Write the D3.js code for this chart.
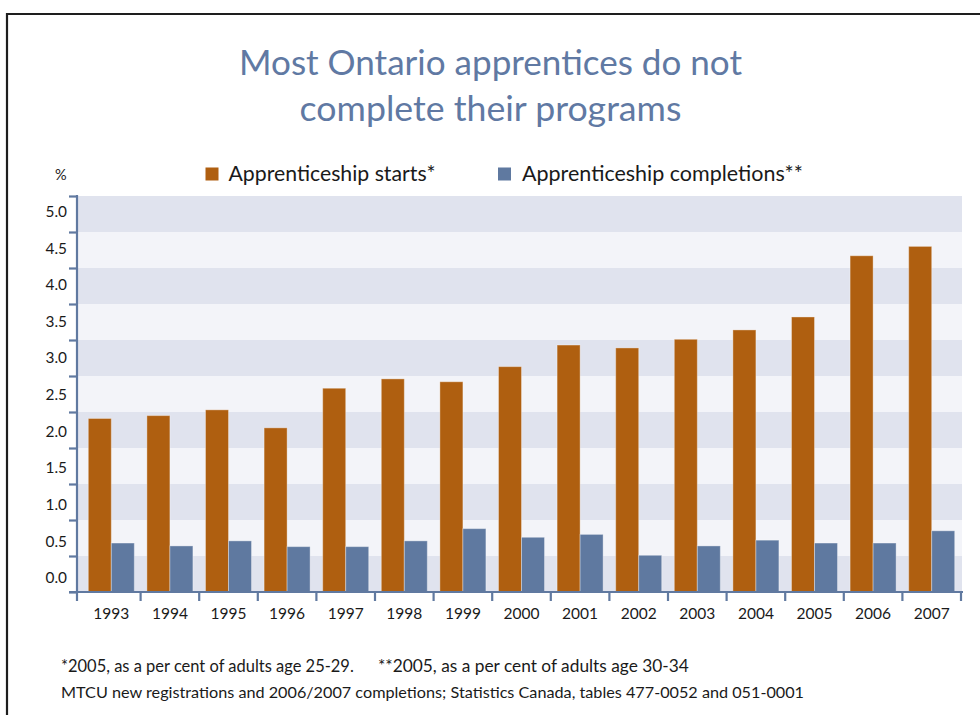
<!DOCTYPE html>
<html>
<head>
<meta charset="utf-8">
<script src="https://cdn.jsdelivr.net/npm/d3@7"></script>
<style>
  html, body { margin: 0; padding: 0; background: #ffffff; }
  svg { display: block; }
  text { font-family: Lato, "Open Sans", "DejaVu Sans", sans-serif; }
</style>
</head>
<body>
<svg id="chart" width="980" height="715"></svg>
<script>
// ---------------- data ----------------
const years = ["1993","1994","1995","1996","1997","1998","1999","2000","2001","2002","2003","2004","2005","2006","2007"];
const seriesNames = ["Apprenticeship starts*", "Apprenticeship completions**"];
const starts      = [2.41, 2.45, 2.53, 2.28, 2.83, 2.96, 2.92, 3.13, 3.43, 3.39, 3.51, 3.64, 3.82, 4.67, 4.80];
const completions = [0.68, 0.64, 0.71, 0.63, 0.63, 0.71, 0.88, 0.76, 0.80, 0.51, 0.64, 0.72, 0.68, 0.68, 0.85];
const yTickLabels = ["0.0","0.5","1.0","1.5","2.0","2.5","3.0","3.5","4.0","4.5","5.0"];
const titleLines = ["Most Ontario apprentices do not", "complete their programs"];
const footnotes = ["*2005, as a per cent of adults age 25-29.", "**2005, as a per cent of adults age 30-34",
                   "MTCU new registrations and 2006/2007 completions; Statistics Canada, tables 477-0052 and 051-0001"];

// ---------------- layout ----------------
const svg = d3.select("#chart");
const colors = { starts: "#AF5F10", completions: "#5F79A0" };
const axisColor = "#6079A0";
const titleColor = "#6079A3";
const textColor = "#1a1a1a";

const plot = { left: 77, right: 962, top: 196, bottom: 592 };

const y = d3.scaleLinear().domain([0, 5.5]).range([plot.bottom, plot.top]);
const yLab = d3.scaleLinear().domain([0, 5]).range([578, 211.5]);
const x = d3.scaleBand().domain(years).range([82, 961]).paddingInner(0).paddingOuter(0);
const groupW = 46;
const xs = d3.scaleBand().domain(["starts","completions"])
  .range([(x.bandwidth() - groupW) / 2, (x.bandwidth() + groupW) / 2]);

// fit text to a target width by adjusting font size
function fit(sel, width) {
  sel.each(function() {
    const len = this.getComputedTextLength();
    const fs = parseFloat(d3.select(this).attr("font-size"));
    d3.select(this).attr("font-size", (fs * width / len).toFixed(2));
  });
  return sel;
}

// frame
svg.append("path")
  .attr("d", "M7,720 L7,14 L990,14")
  .attr("fill", "none").attr("stroke", "#1e1e1e").attr("stroke-width", 2.2);

// title
svg.selectAll("text.title").data(titleLines).enter().append("text")
  .attr("class", "title")
  .attr("x", 490.5).attr("y", (d, i) => i === 0 ? 75 : 120.5)
  .attr("text-anchor", "middle").attr("fill", titleColor)
  .attr("font-size", 34).text(d => d)
  .each(function(d, i) { fit(d3.select(this), i === 0 ? 503 : 382); });

// legend
const legendItems = [
  { key: "starts", name: seriesNames[0], sx: 205.5, tx: 228.5, w: 207 },
  { key: "completions", name: seriesNames[1], sx: 498, tx: 522, w: 281 }
];
const lg = svg.append("g");
lg.selectAll("rect").data(legendItems).enter().append("rect")
  .attr("x", d => d.sx).attr("y", 167.5).attr("width", 13).attr("height", 13)
  .attr("fill", d => colors[d.key]);
lg.selectAll("text").data(legendItems).enter().append("text")
  .attr("x", d => d.tx).attr("y", 181).attr("fill", textColor)
  .attr("font-size", 20).text(d => d.name)
  .each(function(d) { fit(d3.select(this), d.w); });

// % unit label
svg.append("text").attr("x", 55).attr("y", 180).attr("font-size", 14.5)
  .attr("fill", textColor).text("%");

// background bands
const bandEdges = d3.range(0, 5.5, 0.5);
svg.append("g").selectAll("rect").data(bandEdges).enter().append("rect")
  .attr("x", plot.left).attr("width", plot.right - plot.left)
  .attr("y", d => y(d + 0.5)).attr("height", d => y(d) - y(d + 0.5))
  .attr("fill", (d, i) => i % 2 === 0 ? "#E0E3EE" : "#F3F4F9");

// bars
const rows = years.map((yr, i) => ({ year: yr, starts: starts[i], completions: completions[i] }));
const groups = svg.append("g").selectAll("g").data(rows).enter().append("g")
  .attr("transform", d => `translate(${x(d.year)},0)`);
groups.selectAll("rect").data(d => ["starts","completions"].map(k => ({ key: k, value: d[k] })))
  .enter().append("rect")
  .attr("x", d => xs(d.key)).attr("width", xs.bandwidth())
  .attr("y", d => y(d.value)).attr("height", d => y(0) - y(d.value))
  .attr("fill", d => colors[d.key])
  .attr("stroke", "rgba(255,255,255,0.35)").attr("stroke-width", 1);

// y axis
const yAxis = d3.axisLeft(y).tickValues(d3.range(0, 5.51, 0.5)).tickSize(8).tickFormat("");
const yg = svg.append("g").attr("transform", `translate(${plot.left},0)`).call(yAxis);
yg.select(".domain").attr("stroke", axisColor).attr("stroke-width", 2.2)
  .attr("d", `M0,${plot.top - 1}V${plot.bottom + 9}`);
yg.selectAll(".tick line").attr("stroke", axisColor).attr("stroke-width", 2.2);

svg.append("g").selectAll("text").data(yTickLabels).enter().append("text")
  .attr("x", 67).attr("y", d => yLab(+d)).attr("dy", "0.35em")
  .attr("text-anchor", "end").attr("font-size", 16).attr("fill", textColor)
  .text(d => d)
  .each(function() { fit(d3.select(this), 21.5); });

// x axis
const xEdges = years.slice(1).map(yr => x(yr)).concat([x.range()[1]]);
const xg = svg.append("g");
xg.append("line").attr("x1", plot.left - 8).attr("x2", plot.right + 1)
  .attr("y1", plot.bottom).attr("y2", plot.bottom)
  .attr("stroke", axisColor).attr("stroke-width", 2.2);
xg.selectAll("line.tick").data(xEdges).enter().append("line").attr("class", "tick")
  .attr("x1", d => d).attr("x2", d => d).attr("y1", plot.bottom).attr("y2", plot.bottom + 9)
  .attr("stroke", axisColor).attr("stroke-width", 2.2);
xg.selectAll("text").data(years).enter().append("text")
  .attr("x", d => x(d) + x.bandwidth() / 2).attr("y", 618.5)
  .attr("text-anchor", "middle").attr("font-size", 16).attr("fill", textColor)
  .text(d => d)
  .each(function() { fit(d3.select(this), 36); });

// footnotes
const fn = [
  { t: footnotes[0], x: 61, y: 671.5, w: 293 },
  { t: footnotes[1], x: 378, y: 671.5, w: 311 },
  { t: footnotes[2], x: 61, y: 697.5, w: 744 }
];
svg.append("g").selectAll("text").data(fn).enter().append("text")
  .attr("x", d => d.x).attr("y", d => d.y).attr("font-size", 15).attr("fill", textColor)
  .text(d => d.t)
  .each(function(d) { fit(d3.select(this), d.w); });
</script>
</body>
</html>
